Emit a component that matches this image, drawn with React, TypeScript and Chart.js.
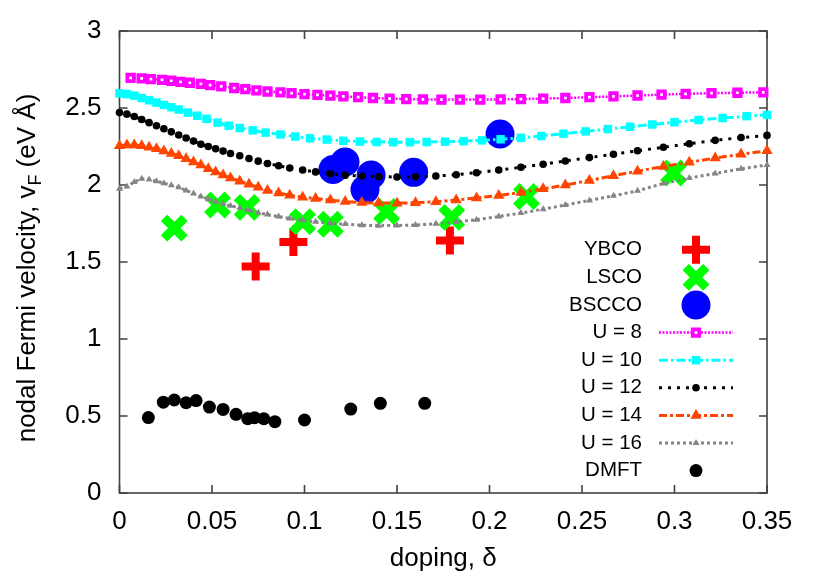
import React, { useEffect, useRef } from 'react';
import { Chart, registerables } from 'chart.js';
import { drawPoint } from 'chart.js/helpers';

Chart.register(...registerables);

// ---------- data ----------
const xTickValues = [0, 0.05, 0.1, 0.15, 0.2, 0.25, 0.3, 0.35];
const yTickValues = [0, 0.5, 1, 1.5, 2, 2.5, 3];

const ybcoDoping = [0.0736, 0.094, 0.1786];
const ybcoVF = [1.47, 1.63, 1.64];

const lscoDoping = [0.0296, 0.053, 0.069, 0.099, 0.114, 0.1444, 0.1796, 0.22, 0.2995];
const lscoVF = [1.72, 1.87, 1.855, 1.762, 1.745, 1.828, 1.79, 1.925, 2.078];

const bsccoDoping = [0.1154, 0.1219, 0.1327, 0.136, 0.159, 0.2057];
const bsccoVF = [2.1, 2.15, 1.97, 2.065, 2.082, 2.331];

const u8Doping = [0.006, 0.012, 0.017, 0.023, 0.028, 0.033, 0.038, 0.044, 0.049, 0.055, 0.062, 0.068, 0.074, 0.08, 0.087, 0.093, 0.1, 0.107, 0.114, 0.121, 0.129, 0.137, 0.146, 0.155, 0.164, 0.174, 0.184, 0.195, 0.206, 0.217, 0.229, 0.241, 0.254, 0.267, 0.28, 0.293, 0.306, 0.32, 0.334, 0.348];
const u8VF = [2.695, 2.693, 2.688, 2.682, 2.677, 2.67, 2.664, 2.657, 2.649, 2.64, 2.63, 2.622, 2.614, 2.607, 2.601, 2.596, 2.59, 2.585, 2.58, 2.575, 2.57, 2.565, 2.561, 2.558, 2.556, 2.555, 2.555, 2.555, 2.556, 2.558, 2.561, 2.565, 2.57, 2.575, 2.581, 2.587, 2.592, 2.596, 2.599, 2.602];

const u10Doping = [0, 0.004, 0.008, 0.012, 0.016, 0.02, 0.024, 0.028, 0.032, 0.037, 0.042, 0.047, 0.053, 0.059, 0.065, 0.072, 0.079, 0.087, 0.095, 0.103, 0.112, 0.121, 0.13, 0.139, 0.148, 0.157, 0.166, 0.176, 0.186, 0.196, 0.206, 0.217, 0.228, 0.24, 0.252, 0.264, 0.276, 0.288, 0.3, 0.313, 0.326, 0.339, 0.35];
const u10VF = [2.595, 2.59, 2.58, 2.565, 2.55, 2.535, 2.52, 2.505, 2.49, 2.47, 2.45, 2.43, 2.405, 2.385, 2.37, 2.355, 2.34, 2.328, 2.315, 2.303, 2.295, 2.287, 2.282, 2.279, 2.278, 2.278, 2.279, 2.281, 2.285, 2.29, 2.297, 2.306, 2.318, 2.333, 2.348, 2.363, 2.378, 2.393, 2.408, 2.422, 2.435, 2.447, 2.455];

const denseDoping = [0, 0.004, 0.008, 0.012, 0.016, 0.02, 0.024, 0.028, 0.032, 0.036, 0.04, 0.044, 0.048, 0.052, 0.056, 0.06, 0.065, 0.07, 0.075, 0.08, 0.086, 0.092, 0.099, 0.106, 0.114, 0.122, 0.131, 0.14, 0.15, 0.16, 0.171, 0.182, 0.193, 0.205, 0.217, 0.229, 0.241, 0.254, 0.267, 0.28, 0.294, 0.308, 0.322, 0.336, 0.35];
const u12VF = [2.47, 2.46, 2.445, 2.425, 2.405, 2.385, 2.365, 2.345, 2.325, 2.305, 2.285, 2.265, 2.25, 2.235, 2.22, 2.205, 2.19, 2.172, 2.155, 2.14, 2.125, 2.11, 2.097, 2.085, 2.073, 2.064, 2.058, 2.054, 2.052, 2.053, 2.058, 2.067, 2.08, 2.097, 2.115, 2.135, 2.156, 2.178, 2.2, 2.222, 2.245, 2.268, 2.29, 2.308, 2.322];
const u14VF = [2.255, 2.26, 2.26, 2.255, 2.245, 2.235, 2.22, 2.205, 2.19, 2.17, 2.15, 2.13, 2.105, 2.085, 2.065, 2.045, 2.025, 2.005, 1.985, 1.965, 1.948, 1.933, 1.921, 1.912, 1.902, 1.893, 1.886, 1.883, 1.882, 1.885, 1.892, 1.903, 1.916, 1.932, 1.952, 1.975, 2.0, 2.03, 2.06, 2.09, 2.12, 2.148, 2.175, 2.2, 2.222];
const u16VF = [1.975, 1.99, 2.02, 2.04, 2.035, 2.025, 2.012, 1.998, 1.985, 1.965, 1.945, 1.925, 1.908, 1.892, 1.878, 1.865, 1.852, 1.835, 1.82, 1.808, 1.795, 1.783, 1.771, 1.761, 1.752, 1.746, 1.739, 1.736, 1.737, 1.74, 1.748, 1.76, 1.775, 1.795, 1.818, 1.843, 1.87, 1.9, 1.93, 1.962, 2.01, 2.045, 2.075, 2.105, 2.13];

const dmftDoping = [0.0156, 0.0237, 0.0296, 0.036, 0.0414, 0.0486, 0.056, 0.063, 0.0693, 0.073, 0.078, 0.084, 0.1, 0.125, 0.141, 0.165];
const dmftVF = [0.49, 0.59, 0.604, 0.586, 0.6, 0.558, 0.543, 0.511, 0.482, 0.489, 0.482, 0.463, 0.474, 0.545, 0.582, 0.582];

// ---------- styling ----------
const FONT = '"Liberation Sans", Arial, Helvetica, sans-serif';
const BORDER = '#404040';

const pts = (xs: number[], ys: number[]) => xs.map((x, i) => ({ x, y: ys[i] }));
const fmt = (v: number) => String(Math.round(v * 100) / 100);

const decorPlugin = {
  id: 'decor',
  beforeDatasetsDraw(chart: any) {
    const { ctx, chartArea: a, scales } = chart;
    ctx.save();
    ctx.strokeStyle = BORDER;
    ctx.lineWidth = 1.6;
    ctx.setLineDash([]);
    ctx.strokeRect(a.left, a.top, a.right - a.left, a.bottom - a.top);
    const tl = 8;
    ctx.beginPath();
    xTickValues.forEach((v) => {
      const px = scales.x.getPixelForValue(v);
      ctx.moveTo(px, a.bottom); ctx.lineTo(px, a.bottom - tl);
      ctx.moveTo(px, a.top); ctx.lineTo(px, a.top + tl);
    });
    yTickValues.forEach((v) => {
      const py = scales.y.getPixelForValue(v);
      ctx.moveTo(a.left, py); ctx.lineTo(a.left + tl, py);
      ctx.moveTo(a.right, py); ctx.lineTo(a.right - tl, py);
    });
    ctx.stroke();
    ctx.restore();
  },
  afterDraw(chart: any) {
    const { ctx, chartArea: a } = chart;
    ctx.save();
    ctx.fillStyle = '#000';
    // x title
    ctx.font = `26px ${FONT}`;
    ctx.textAlign = 'center';
    ctx.textBaseline = 'alphabetic';
    ctx.fillText('doping, δ', (a.left + a.right) / 2, 558);
    // y title
    ctx.save();
    ctx.translate(27, (a.top + a.bottom) / 2 + 6);
    ctx.rotate(-Math.PI / 2);
    ctx.textAlign = 'left';
    const s1 = 'nodal Fermi velocity, v';
    const s2 = 'F';
    const s3 = ' (eV Å)';
    ctx.font = `26px ${FONT}`;
    const w1 = ctx.measureText(s1).width;
    const w3 = ctx.measureText(s3).width;
    ctx.font = `18px ${FONT}`;
    const w2 = ctx.measureText(s2).width;
    const start = -(w1 + w2 + w3) / 2;
    ctx.font = `26px ${FONT}`;
    ctx.fillText(s1, start, 0);
    ctx.font = `18px ${FONT}`;
    ctx.fillText(s2, start + w1, 6);
    ctx.font = `26px ${FONT}`;
    ctx.fillText(s3, start + w1 + w2, 0);
    ctx.restore();
    // legend
    const y0 = 241.8, step = 27.6, tx = 634, l0 = 651, l1 = 725, mx = 688;
    chart.data.datasets.forEach((d: any, i: number) => {
      const y = y0 + i * step;
      ctx.font = `20.5px ${FONT}`;
      ctx.textAlign = 'right';
      ctx.textBaseline = 'middle';
      ctx.fillStyle = '#000';
      ctx.fillText(d.label, tx, y);
      if (d.showLine) {
        ctx.setLineDash(d.borderDash || []);
        ctx.strokeStyle = d.borderColor;
        ctx.lineWidth = d.borderWidth;
        ctx.beginPath();
        ctx.moveTo(l0, y); ctx.lineTo(l1, y);
        ctx.stroke();
      }
      ctx.setLineDash([]);
      ctx.fillStyle = d.pointBackgroundColor;
      ctx.strokeStyle = d.pointBorderColor;
      ctx.lineWidth = d.pointBorderWidth;
      drawPoint(ctx, { pointStyle: d.pointStyle, radius: d.pointRadius, borderWidth: d.pointBorderWidth, rotation: 0 } as any, mx, y);
    });
    ctx.restore();
  },
};

const zeroPad = (s: any) => { s.paddingTop = 0; s.paddingBottom = 0; s.paddingLeft = 0; s.paddingRight = 0; };

export default function App() {
  const ref = useRef<HTMLCanvasElement | null>(null);
  useEffect(() => {
    if (!ref.current) return;
    const common = { clip: false as any };
    const chart = new Chart(ref.current, {
      type: 'scatter',
      data: {
        datasets: [
          { ...common, label: 'YBCO', data: pts(ybcoDoping, ybcoVF), showLine: false, order: 9,
            pointStyle: 'cross', pointRadius: 14, pointBorderWidth: 8, pointBorderColor: '#ff0000', pointBackgroundColor: '#ff0000', borderColor: '#ff0000' },
          { ...common, label: 'LSCO', data: pts(lscoDoping, lscoVF), showLine: false, order: 8,
            pointStyle: 'crossRot', pointRadius: 14.5, pointBorderWidth: 9, pointBorderColor: '#00ff00', pointBackgroundColor: '#00ff00', borderColor: '#00ff00' },
          { ...common, label: 'BSCCO', data: pts(bsccoDoping, bsccoVF), showLine: false, order: 7,
            pointStyle: 'circle', pointRadius: 14.5, pointBorderWidth: 0, pointBorderColor: '#0000ff', pointBackgroundColor: '#0000ff', borderColor: '#0000ff' },
          { ...common, label: 'U = 8', data: pts(u8Doping, u8VF), showLine: true, order: 6,
            borderColor: '#ff00ff', borderWidth: 2.5, borderDash: [2, 1.5],
            pointStyle: 'rect', pointRadius: 4.6, pointBorderWidth: 3.8, pointBorderColor: '#ff00ff', pointBackgroundColor: '#ffffff' },
          { ...common, label: 'U = 10', data: pts(u10Doping, u10VF), showLine: true, order: 5,
            borderColor: '#00ffff', borderWidth: 3, borderDash: [9, 3, 2.5, 3],
            pointStyle: 'rect', pointRadius: 6, pointBorderWidth: 0, pointBorderColor: '#00ffff', pointBackgroundColor: '#00ffff' },
          { ...common, label: 'U = 12', data: pts(denseDoping, u12VF), showLine: true, order: 4,
            borderColor: '#000000', borderWidth: 3, borderDash: [3, 6],
            pointStyle: 'circle', pointRadius: 3.8, pointBorderWidth: 0, pointBorderColor: '#000000', pointBackgroundColor: '#000000' },
          { ...common, label: 'U = 14', data: pts(denseDoping, u14VF), showLine: true, order: 3,
            borderColor: '#ff4500', borderWidth: 3, borderDash: [8, 3, 3, 3],
            pointStyle: 'triangle', pointRadius: 6.5, pointBorderWidth: 0, pointBorderColor: '#ff4500', pointBackgroundColor: '#ff4500' },
          { ...common, label: 'U = 16', data: pts(denseDoping, u16VF), showLine: true, order: 2,
            borderColor: '#858585', borderWidth: 3, borderDash: [3, 3],
            pointStyle: 'triangle', pointRadius: 4, pointBorderWidth: 0, pointBorderColor: '#858585', pointBackgroundColor: '#858585' },
          { ...common, label: 'DMFT', data: pts(dmftDoping, dmftVF), showLine: false, order: 1,
            pointStyle: 'circle', pointRadius: 6.5, pointBorderWidth: 0, pointBorderColor: '#000000', pointBackgroundColor: '#000000', borderColor: '#000000' },
        ] as any,
      },
      options: {
        animation: false,
        responsive: true,
        maintainAspectRatio: false,
        events: [],
        layout: { autoPadding: false, padding: { left: 0, top: 23, right: 55, bottom: 0 } },
        plugins: { legend: { display: false }, tooltip: { enabled: false } },
        scales: {
          x: {
            type: 'linear', min: 0, max: 0.35,
            afterBuildTicks: (s: any) => { s.ticks = xTickValues.map((v) => ({ value: v })); },
            afterFit: (s: any) => { s.height = 80; zeroPad(s); },
            grid: { display: false, drawTicks: false },
            border: { display: false },
            ticks: { font: { family: FONT, size: 26 }, color: '#000', padding: 13, maxRotation: 0, autoSkip: false,
              callback: (v: any) => fmt(Number(v)) },
          },
          y: {
            type: 'linear', min: 0, max: 3,
            afterBuildTicks: (s: any) => { s.ticks = yTickValues.map((v) => ({ value: v })); },
            afterFit: (s: any) => { s.width = 111.5; zeroPad(s); },
            grid: { display: false, drawTicks: false },
            border: { display: false },
            ticks: { font: { family: FONT, size: 26 }, color: '#000', padding: 18, autoSkip: false,
              callback: (v: any) => fmt(Number(v)) },
          },
        },
      } as any,
      plugins: [decorPlugin],
    });
    return () => chart.destroy();
  }, []);
  return (
    <div style={{ position: 'relative', width: 814, height: 565 }}>
      <canvas ref={ref} />
    </div>
  );
}
